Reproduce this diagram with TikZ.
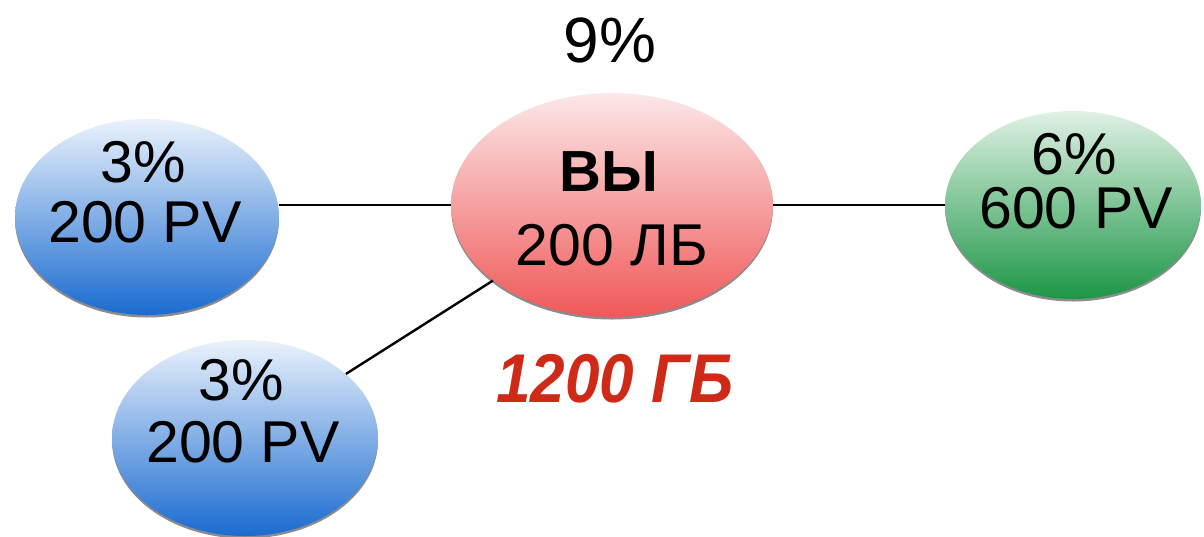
\documentclass[tikz,border=0pt]{standalone}
\usepackage{fontspec}
\setmainfont{Liberation Sans}
\usetikzlibrary{shapes.geometric,shadows}
\definecolor{bTop}{HTML}{EAF2FC}
\definecolor{bMid}{HTML}{5C9BE0}
\definecolor{bBot}{HTML}{1A6BD0}
\definecolor{rTop}{HTML}{FCE8E8}
\definecolor{rMid}{HTML}{F49E9E}
\definecolor{rBot}{HTML}{F05858}
\definecolor{gTop}{HTML}{E0F1E4}
\definecolor{gMid}{HTML}{5CB874}
\definecolor{gBot}{HTML}{1C9646}
\definecolor{redtxt}{HTML}{CF2A18}
\tikzset{
  bubble/.style={ellipse, draw=none, inner sep=0pt,
    drop shadow={shadow xshift=0pt, shadow yshift=-2.5pt, opacity=0.45, fill=black}},
  bluebubble/.style={bubble, top color=bTop, middle color=bMid, bottom color=bBot},
  redbubble/.style={bubble, top color=rTop, middle color=rMid, bottom color=rBot},
  greenbubble/.style={bubble, top color=gTop, middle color=gMid, bottom color=gBot},
  txt/.style={anchor=base, inner sep=0pt, font=\fontsize{59}{62}\selectfont},
  conn/.style={draw=black, line width=2.4pt}
}
\begin{document}
\begin{tikzpicture}[x=1pt, y=-1pt]
\useasboundingbox (0,0) rectangle (1204,536);
% bubbles
\node[bluebubble, minimum width=264pt, minimum height=196pt] (L1) at (147,217) {};
\node[redbubble, minimum width=322pt, minimum height=224pt] (R) at (612,205) {};
\node[greenbubble, minimum width=256pt, minimum height=188pt] (G) at (1073,205) {};
\node[bluebubble, minimum width=266pt, minimum height=196pt] (L2) at (245,438) {};
% connectors
\draw[conn] (R.west -| L1.east) -- (R.west);
\draw[conn] (R.east) -- (G.west);
\draw[conn] (L2) -- (R);
% texts
\node[txt, font=\fontsize{58}{60}\selectfont\bfseries] (ra) at (609,191) {\char"0412\relax\char"042B\relax};
\node[txt] (l1a) at (143,182) {3\%};
\node[txt] (l1b) at (145,242) {200 PV};
\node[txt] (rb) at (612,265) {200 \char"041B\relax\char"0411\relax};
\node[txt] (ga) at (1074,174) {6\%};
\node[txt] (gb) at (1076,228) {600 PV};
\node[txt] (l2a) at (241,400) {3\%};
\node[txt] (l2b) at (243,462) {200 PV};
\node[txt, font=\fontsize{64}{66}\selectfont] (top) at (610,62) {9\%};
\node[txt, text=redtxt] (total) at (615,402) {\scalebox{0.9}[1]{\fontsize{69}{70}\selectfont\bfseries\itshape 1200 \char"0413\relax\char"0411\relax}};
\end{tikzpicture}
\end{document}
